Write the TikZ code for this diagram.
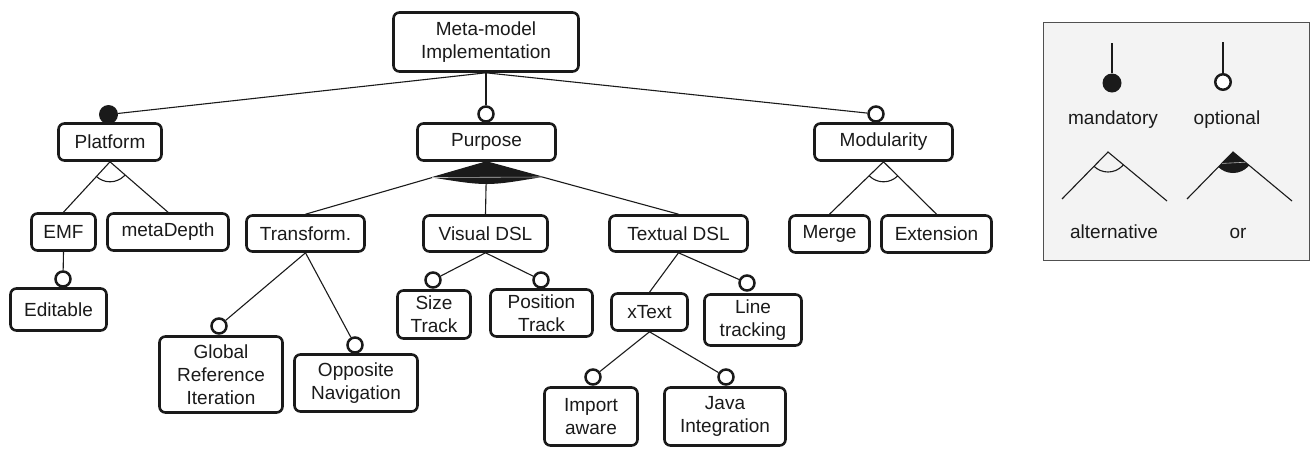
\documentclass[tikz,border=0pt]{standalone}
\usepackage{fontspec}
\setmainfont{Liberation Sans}
\usetikzlibrary{calc}
\definecolor{legfill}{HTML}{F3F3F3}
\definecolor{legedge}{HTML}{505050}
\definecolor{ink}{HTML}{1A1A1A}
\begin{document}
\begin{tikzpicture}[x=1pt,y=-1pt,
  feat/.style={draw=ink, line width=2.6pt, rounded corners=6pt, fill=white, align=center, inner sep=0pt, text=ink, font=\fontsize{19}{23}\selectfont},
  conn/.style={draw=ink, line width=1.1pt},
  optmark/.style={circle, draw=ink, line width=2.5pt, fill=white, minimum size=15pt, inner sep=0pt},
  mandmark/.style={circle, fill=ink, minimum size=19pt, inner sep=0pt},
  lbl/.style={text=ink, font=\fontsize{19}{23}\selectfont, inner sep=0pt, anchor=base},
  seam/.style={draw=gray!55, line width=0.6pt},
]
\useasboundingbox (0,0) rectangle (1312,448);

% ---------------- feature nodes ----------------
\node[feat, minimum width=185pt, minimum height=59pt] (root) at (486,42) {Meta-model\\Implementation};
\node[feat, minimum width=103pt, minimum height=37pt] (platform) at (110,142) {Platform};
\node[feat, minimum width=138pt, minimum height=37pt] (purpose) at (486.5,142) {Purpose};
\node[feat, minimum width=138pt, minimum height=37pt] (modularity) at (883.5,142) {Modularity};
\node[feat, minimum width=64pt, minimum height=37pt] (emf) at (63.5,232) {EMF};
\node[feat, minimum width=121pt, minimum height=37pt] (metadepth) at (168,232) {metaDepth};
\node[feat, minimum width=118pt, minimum height=36pt] (transform) at (305.5,233.5) {Transform.};
\node[feat, minimum width=124pt, minimum height=36pt] (visual) at (485.5,233.5) {Visual DSL};
\node[feat, minimum width=138pt, minimum height=36pt] (textual) at (678.5,233.5) {Textual DSL};
\node[feat, minimum width=80pt, minimum height=37pt] (merge) at (829.5,234) {Merge};
\node[feat, minimum width=110pt, minimum height=37pt] (extension) at (936.5,234) {Extension};
\node[feat, minimum width=96pt, minimum height=42pt] (editable) at (58.5,309.5) {Editable};
\node[feat, minimum width=123pt, minimum height=76pt] (global) at (221,374.5) {Global\\Reference\\Iteration};
\node[feat, minimum width=123pt, minimum height=57pt] (opposite) at (356,383) {Opposite\\Navigation};
\node[feat, minimum width=73pt, minimum height=48pt] (size) at (434,314.5) {Size\\Track};
\node[feat, minimum width=102pt, minimum height=47pt] (position) at (541.5,313) {Position\\Track};
\node[feat, minimum width=76pt, minimum height=37pt] (xtext) at (649.5,312) {xText};
\node[feat, minimum width=97pt, minimum height=51pt] (linetrack) at (753,320) {Line\\tracking};
\node[feat, minimum width=93pt, minimum height=58pt] (import) at (591,416.5) {Import\\aware};
\node[feat, minimum width=121pt, minimum height=58pt] (java) at (725,416.5) {Java\\Integration};

% ---------------- markers ----------------
\node[mandmark] (m-platform) at (108.5,114.5) {};
\node[optmark] (o-purpose) at (486,114) {};
\node[optmark] (o-modularity) at (876,114) {};
\node[optmark] (o-editable) at (63,279) {};
\node[optmark] (o-global) at (219,326) {};
\node[optmark] (o-opposite) at (355,345) {};
\node[optmark] (o-size) at (433,280) {};
\node[optmark] (o-position) at (541,280) {};
\node[optmark] (o-linetrack) at (747,283) {};
\node[optmark] (o-import) at (593,377) {};
\node[optmark] (o-java) at (726,377) {};

% ---------------- connectors ----------------
\draw[conn] (root.south) -- (m-platform);
\draw[conn] (root.south) -- (o-purpose);
\draw[conn] (root.south) -- (o-modularity);
\draw[conn] (emf.south) -- (o-editable);
\draw[conn] (transform.south) -- (o-global);
\draw[conn] (transform.south) -- (o-opposite);
\draw[conn] (visual.south) -- (o-size);
\draw[conn] (visual.south) -- (o-position);
\draw[conn] (textual.south) -- (xtext.north);
\draw[conn] (textual.south) -- (o-linetrack);
\draw[conn] (xtext.south) -- (o-import);
\draw[conn] (xtext.south) -- (o-java);

% alternative group: Platform
\draw[conn] (emf.north) -- (platform.south) -- (metadepth.north);
\begin{scope}
\clip (platform.south) -- (emf.north) -- (metadepth.north) -- cycle;
\draw[conn] (platform.south) circle[radius=20pt];
\end{scope}

% alternative group: Modularity
\draw[conn] (merge.north) -- (modularity.south) -- (extension.north);
\begin{scope}
\clip (modularity.south) -- (merge.north) -- (extension.north) -- cycle;
\draw[conn] (modularity.south) circle[radius=20pt];
\end{scope}

% or group: Purpose
\draw[conn] (purpose.south) -- (transform.north);
\draw[conn] (purpose.south) -- (visual.north);
\draw[conn] (purpose.south) -- (textual.north);
\coordinate (orL) at ($(purpose.south)!0.30!(transform.north)$);
\coordinate (orR) at ($(purpose.south)!0.29!(textual.north)$);
\fill[ink] (purpose.south) -- (orL) .. controls ($(orL)!0.5!(orR)+(0,9)$) .. (orR) -- cycle;
\draw[seam] (orL) -- (orR);

% ---------------- legend ----------------
\node[draw=legedge, fill=legfill, line width=1.5pt, minimum width=266pt, minimum height=238pt, inner sep=0pt] (legend) at (1176.5,141.5) {};
\node[mandmark] (lg-mand) at (1112,83) {};
\coordinate (lg-mand-top) at (1112,43);
\draw[conn] (lg-mand-top) -- (lg-mand);
\node[optmark, minimum size=15.5pt] (lg-opt) at (1223,82) {};
\coordinate (lg-opt-top) at (1223,42);
\draw[conn] (lg-opt-top) -- (lg-opt);
\node[lbl] (lg-mand-t) at (1113,124) {mandatory};
\node[lbl] (lg-opt-t) at (1227,124) {optional};

\coordinate (la-apex) at (1108,152);
\coordinate (la-l) at (1062,199);
\coordinate (la-r) at (1167,201);
\draw[conn] (la-l) -- (la-apex) -- (la-r);
\begin{scope}
\clip (la-apex) -- (la-l) -- (la-r) -- cycle;
\draw[conn] (la-apex) circle[radius=20pt];
\end{scope}

\coordinate (lo-apex) at (1233,152);
\coordinate (lo-l) at (1187,199);
\coordinate (lo-r) at (1292,201);
\draw[conn] (lo-l) -- (lo-apex) -- (lo-r);
\begin{scope}
\clip (lo-apex) -- (lo-l) -- (lo-r) -- cycle;
\fill[ink] (lo-apex) circle[radius=21pt];
\end{scope}
\draw[seam] ($(lo-apex)!16pt!(lo-l)$) -- ($(lo-apex)!16pt!(lo-r)$);

\node[lbl] (lg-alt-t) at (1114,238) {alternative};
\node[lbl] (lg-or-t) at (1238,238) {or};
\end{tikzpicture}
\end{document}
